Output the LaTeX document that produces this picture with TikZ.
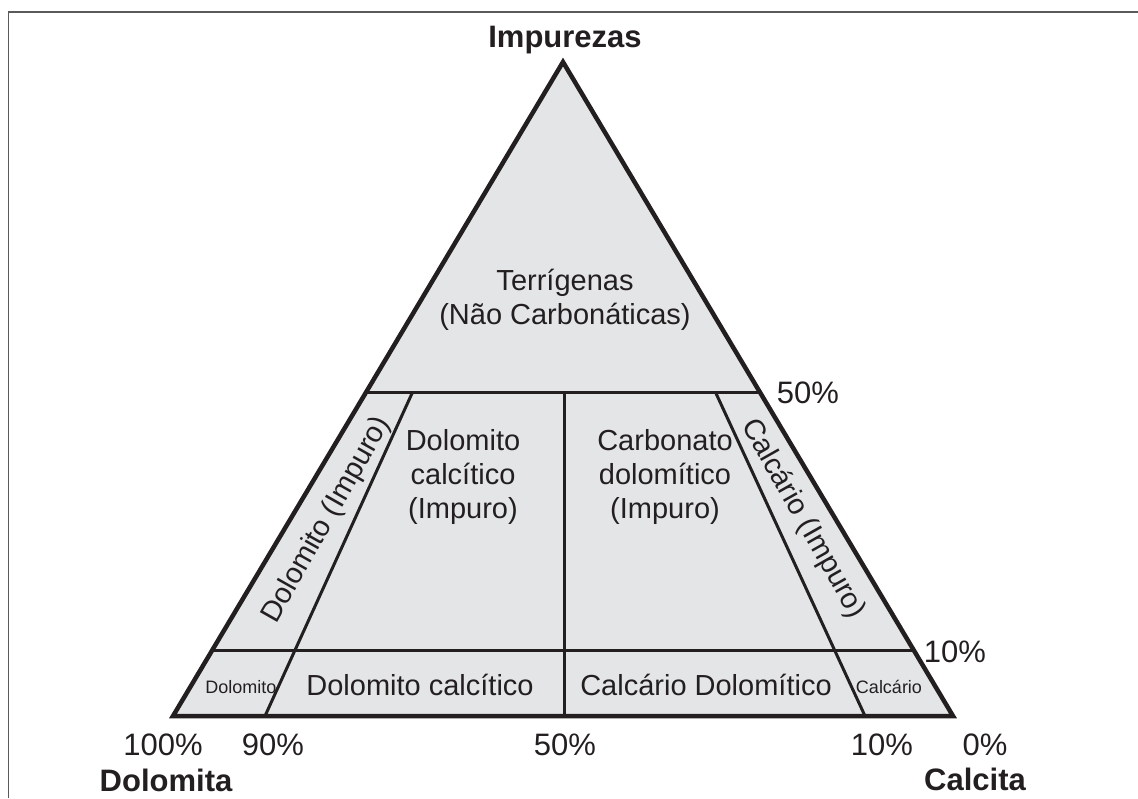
\documentclass[tikz,border=0pt]{standalone}
\usepackage{fontspec}
\setmainfont{Liberation Sans}
\usetikzlibrary{calc,positioning}
\definecolor{fillgrey}{RGB}{228,229,231}
\definecolor{ink}{RGB}{35,31,32}
\definecolor{framegrey}{RGB}{90,90,90}

\begin{document}
\begin{tikzpicture}[x=1pt,y=-1pt,
	region/.style={text=ink, inner sep=0pt, align=center, font=\fontsize{29}{34}\selectfont},
	cellsmall/.style={text=ink, inner sep=0pt, anchor=base, font=\fontsize{18}{20}\selectfont},
	pct/.style={text=ink, inner sep=0pt, anchor=base, font=\fontsize{31}{36}\selectfont},
	pole/.style={text=ink, inner sep=0pt, anchor=base, font=\bfseries\fontsize{31}{36}\selectfont},
	rim/.style={draw=ink, line width=4.5pt},
	divider/.style={draw=ink, line width=3pt}]
	\useasboundingbox (0,0) rectangle (1138,798);
	\draw[framegrey, line width=1.5pt] (8.5,798) -- (8.5,12) -- (1138,12);

	% corners of the triangle
	\coordinate (top) at (563,62);
	\coordinate (dol) at (173,716);
	\coordinate (cal) at (953,716);
	% points on the base
	\coordinate (p90) at (265,716);
	\coordinate (p50) at (564,716);
	\coordinate (p10) at (865,716);
	% 50% and 10% lines
	\coordinate (l50) at ($(top)!0.505!(dol)$);
	\coordinate (r50) at ($(top)!0.505!(cal)$);
	\coordinate (l10) at ($(top)!0.9!(dol)$);
	\coordinate (r10) at ($(top)!0.9!(cal)$);
	\coordinate (m90) at ($(top)!0.505!(p90)$);
	\coordinate (m50) at ($(l50)!0.5!(r50)$);
	\coordinate (m10) at ($(top)!0.505!(p10)$);

	\fill[fillgrey] (top) -- (dol) -- (cal) -- cycle;
	\draw[divider] (l50) -- (r50);
	\draw[divider] (l10) -- (r10);
	\draw[divider] (m90) -- (p90);
	\draw[divider] (m50 -| p50) -- (p50);
	\draw[divider] (m10) -- (p10);
	\draw[rim] (top) -- (dol) -- (cal) -- cycle;

	% fields
	\node[region] (terr) at (565,300) {Terrígenas\\(Não Carbonáticas)};
	\node[region] (dolcalimp) at (463,477) {Dolomito\\calcítico\\(Impuro)};
	\node[region] (carbimp) at (665,477) {Carbonato\\dolomítico\\(Impuro)};
	\node[region, rotate=60.5] (dolimp) at (327,520) {Dolomito (Impuro)};
	\node[region, rotate=-60.5] (calimp) at (803,519) {Calcário (Impuro)};
	\node[region, anchor=base] (dolcal) at (420,695) {Dolomito calcítico};
	\node[region, anchor=base] (caldol) at (706,695) {Calcário Dolomítico};
	\node[cellsmall] (dolo) at (241,693) {Dolomito};
	\node[cellsmall] (calc) at (889,693) {Calcário};

	% scales
	\node[pct] (s100) at (163,755) {100\%};
	\node[pct] (s90) at (273,755) {90\%};
	\node[pct] (s50) at (565,755) {50\%};
	\node[pct] (s10) at (882,755) {10\%};
	\node[pct] (s0) at (985,755) {0\%};
	\node[pct] (h50) at (808,403) {50\%};
	\node[pct] (h10) at (955,662) {10\%};

	% poles
	\node[pole] (impur) at (565,47) {Impurezas};
	\node[pole] (dolomita) at (166,791) {Dolomita};
	\node[pole] (calcita) at (975,790) {Calcita};
\end{tikzpicture}
\end{document}
